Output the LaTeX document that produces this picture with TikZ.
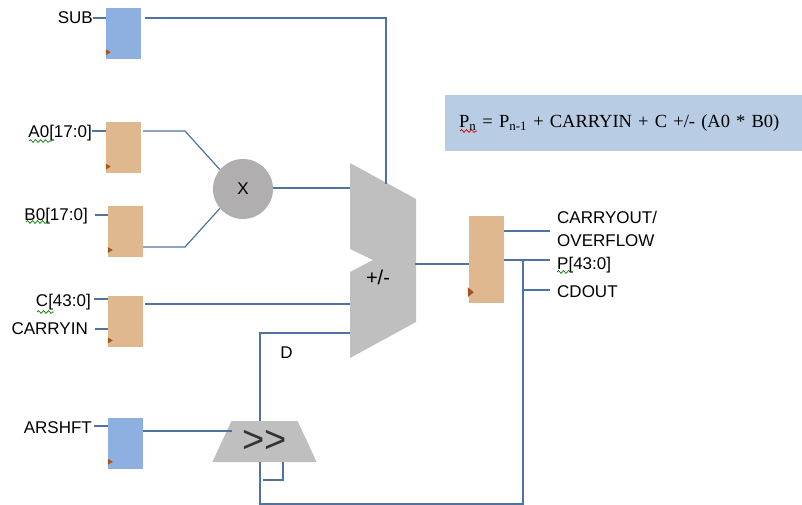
\documentclass[tikz,border=0pt]{standalone}
\usepackage{fontspec}
\setmainfont{Liberation Sans}
\newfontfamily\formulafont{Liberation Serif}
\usetikzlibrary{positioning,shapes.geometric,decorations.pathmorphing}
\definecolor{regblue}{HTML}{8EB0E0}
\definecolor{regtan}{HTML}{DFB88F}
\definecolor{unitgray}{HTML}{BFBFBF}
\definecolor{multgray}{HTML}{B0AEAE}
\definecolor{wireblue}{HTML}{4F72A0}
\definecolor{clkbrown}{HTML}{A5561C}
\definecolor{formulablue}{HTML}{B8CCE4}

\begin{document}
\begin{tikzpicture}[
		x=1pt, y=1pt,
		reg/.style={rectangle, minimum width=35pt, minimum height=51pt, inner sep=0pt},
		bluereg/.style={reg, fill=regblue},
		tanreg/.style={reg, fill=regtan},
		lbl/.style={inner sep=0pt, text height=12pt, text depth=0pt, font=\fontsize{17}{19}\selectfont},
		wire/.style={draw=wireblue, line width=1.2pt},
		clk/.style={fill=clkbrown},
		squiggle/.style={green!50!black, line width=.7pt, decorate, decoration={snake, amplitude=1.4pt, segment length=5pt}}
	]
	\useasboundingbox (0,0) rectangle (802,-505);

	% registers
	\node[bluereg] (sub) at (123.5,-33.5) {};
	\node[tanreg, below=63pt of sub] (a0) {};
	\node[tanreg, below=32pt of a0, xshift=2pt] (b0) {};
	\node[tanreg, below=39pt of b0] (c) {};
	\node[bluereg, below=70pt of c] (arshft) {};
	\node[tanreg, minimum height=87pt] (p) at (486.5,-259.5) {};

	\foreach \r in {sub,a0,b0,c,arshft}
		\fill[clk] ([yshift=10pt]\r.south west) -- ++(5,-3) -- ++(-5,-3) -- cycle;
	\fill[clk] ([xshift=-1pt,yshift=16pt]p.south west) -- ++(6,-5) -- ++(-6,-5) -- cycle;

	% input labels
	\node[lbl, anchor=east] (sublbl) at (93,-18) {SUB};
	\node[lbl, anchor=east] (a0lbl) at (92,-132) {A0[17:0]};
	\node[lbl, anchor=east] (b0lbl) at (88,-214) {B0[17:0]};
	\node[lbl, anchor=east] (clbl) at (91,-300) {C[43:0]};
	\node[lbl, anchor=east] (cinlbl) at (88,-328) {CARRYIN};
	\node[lbl, anchor=east] (arlbl) at (92,-427) {ARSHFT};

	% multiplier, adder, shifter
	\node[circle, fill=multgray, minimum size=60pt, inner sep=0pt, font=\fontsize{17}{19}\selectfont] (mult) at (243,-189) {X};
	\fill[unitgray] (350,-163) -- (416,-199) -- (416,-322) -- (350,-358) -- (350,-272) -- (373,-260) -- (350,-249) -- cycle;
	\node[font=\fontsize{20}{22}\selectfont, inner sep=0pt] (addsub) at (378,-277) {+/-};
	\node[trapezium, trapezium angle=60, trapezium stretches=true, fill=unitgray, text=black!80, minimum width=105pt, minimum height=41pt, inner sep=0pt, font=\fontsize{38}{40}\selectfont] (shift) at (264.5,-441.5) {>{}>};

	% free ends
	\coordinate (subin) at (386,-184);
	\coordinate (a0bend) at (185,-131);
	\coordinate (b0bend) at (185,-247);
	\coordinate (multin) at (350,-188);
	\coordinate (cin) at (350,-304);
	\coordinate (din) at (350,-333);
	\coordinate (dleg) at (260,-333);
	\coordinate (shiftin) at (232,-431);
	\coordinate (loopend) at (263,-480);
	\coordinate (fbend) at (523,-504);
	\coordinate (ptap) at (523,-260);
	\coordinate (addout) at (415,-264);

	% wires
	\draw[wire] (sublbl.east) -- (sublbl.east -| sub.west);
	\draw[wire] ([yshift=1pt]a0lbl.east) -- ([yshift=1pt]a0lbl.east -| a0.west);
	\draw[wire] ([xshift=7pt,yshift=-1pt]b0lbl.east) -- ([yshift=-1pt]b0lbl.east -| b0.west);
	\draw[wire] ([xshift=3pt,yshift=1pt]clbl.east) -- ([yshift=1pt]clbl.east -| c.west);
	\draw[wire] ([xshift=7pt,yshift=-1pt]cinlbl.east) -- ([yshift=-1pt]cinlbl.east -| c.west);
	\draw[wire] ([xshift=2pt,yshift=1pt]arlbl.east) -- ([yshift=1pt]arlbl.east -| arshft.west);

	\draw[wire] (sub.east |- sublbl.east) ++(4,0) -| (subin);
	\draw[wire] ([xshift=2pt]a0.east |- a0bend) -- (a0bend) -- (mult.140);
	\draw[wire] (b0.east |- b0bend) -- (b0bend) -- (mult.220);
	\draw[wire] (mult.east |- multin) -- (multin);
	\draw[wire] ([xshift=2pt]c.east |- cin) -- (cin);
	\draw[wire] (din) -| (shift.north -| dleg);
	\draw[wire] (arshft.east |- shiftin) -- (shiftin);
	\draw[wire] (addout) -- (p.west |- addout);
	\draw[wire] (shift.south -| dleg) |- (fbend) -- (ptap);
	\draw[wire] ([xshift=18.5pt]shift.south) |- (loopend);

	% outputs
	\node[lbl, anchor=west] (colbl) at (557,-217) {CARRYOUT/};
	\node[lbl, anchor=west] (ovlbl) at (557,-240) {OVERFLOW};
	\node[lbl, anchor=west] (plbl) at (557,-263) {P[43:0]};
	\node[lbl, anchor=west] (cdlbl) at (557,-291) {CDOUT};
	\draw[wire] (p.east |- 0,-231) -- (550,-231);
	\draw[wire] (p.east |- ptap) -- (550,-260);
	\draw[wire] (ptap |- cdlbl.west) ++(0,1) -- ++(27,0);
	\node[lbl] (dlbl) at (286.5,-352) {D};

	% formula
	\node[fill=formulablue, minimum width=357pt, minimum height=56pt, inner sep=0pt, text width=329pt, font=\formulafont\fontsize{18.5}{20}\selectfont] (formula) at (623.5,-123)
		{P\textsubscript{n} = P\textsubscript{n-1} + CARRYIN + C +/- (A0 * B0)};

	% spelling marks
	\draw[squiggle] (29,-141) -- (52,-141);
	\draw[squiggle] (26,-222) -- (49,-222);
	\draw[squiggle] (37,-312) -- (54,-312);
	\draw[squiggle] (557,-272) -- (572,-272);
	\draw[squiggle, red!80!black] (460,-131) -- (477,-131);
\end{tikzpicture}
\end{document}
